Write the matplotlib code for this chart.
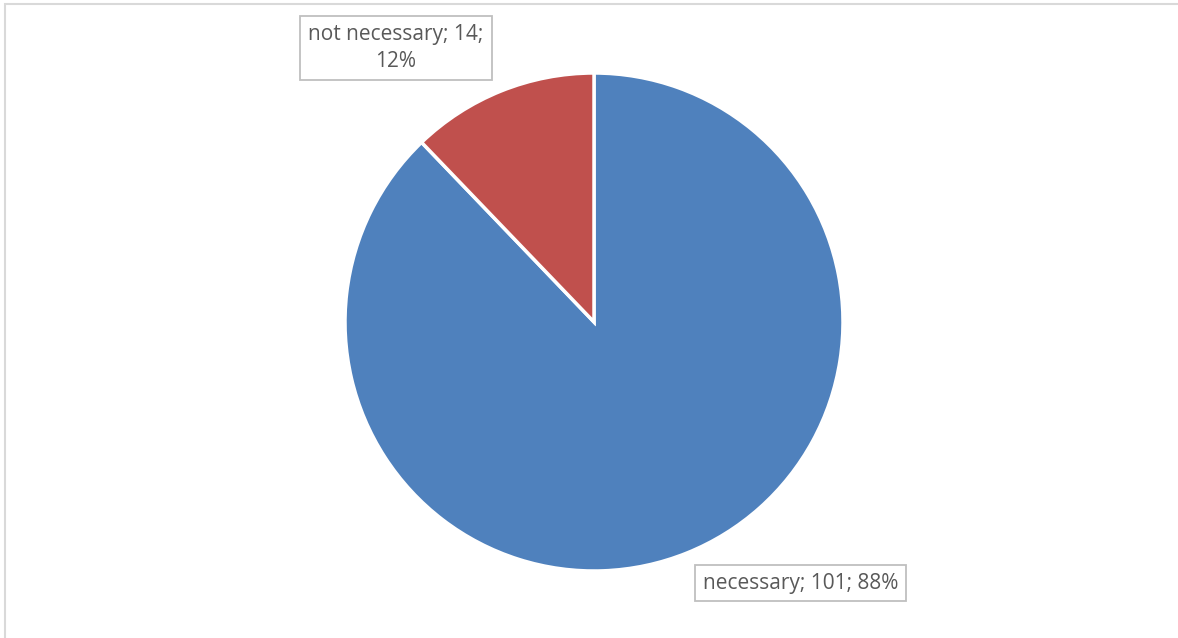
import matplotlib.pyplot as plt
from matplotlib.patches import Rectangle

labels = ["necessary", "not necessary"]
counts = [101, 14]
colors = ["#4F81BD", "#C0504D"]

W, H = 1178, 638
fig = plt.figure(figsize=(W / 100, H / 100), dpi=100)
plt.rcParams['font.family'] = ['Open Sans', 'DejaVu Sans']

# light chart border
fig.patches.append(Rectangle((5 / W, -0.01), 1.1, (H - 3.5) / H + 0.01,
                             transform=fig.transFigure, fill=False,
                             edgecolor="#D9D9D9", linewidth=1.5))

cx, cy, r = 594, 322, 249
ax = fig.add_axes([(cx - r) / W, (H - cy - r) / H, 2 * r / W, 2 * r / H])
ax.pie(counts, colors=colors, startangle=90, counterclock=False,
       wedgeprops=dict(edgecolor="white", linewidth=2.5))
ax.set_xlim(-1, 1)
ax.set_ylim(-1, 1)
ax.axis("off")

total = sum(counts)
txt = ["%s; %d; %d%%" % (l, c, round(100 * c / total)) for l, c in zip(labels, counts)]
txt[1] = "not necessary; 14;\n12%"

box = dict(boxstyle="square,pad=0.38", facecolor="white", edgecolor="#BFBFBF", linewidth=1.3)
fig.text(800.5 / W, 1 - 583 / H, txt[0], ha="center", va="center",
         fontsize=15, color="#595959", bbox=box)
fig.text(396 / W, 1 - 48 / H, txt[1], ha="center", va="center",
         fontsize=15, color="#595959", bbox=box, linespacing=1.35)

fig.savefig("out.png", dpi=100)
